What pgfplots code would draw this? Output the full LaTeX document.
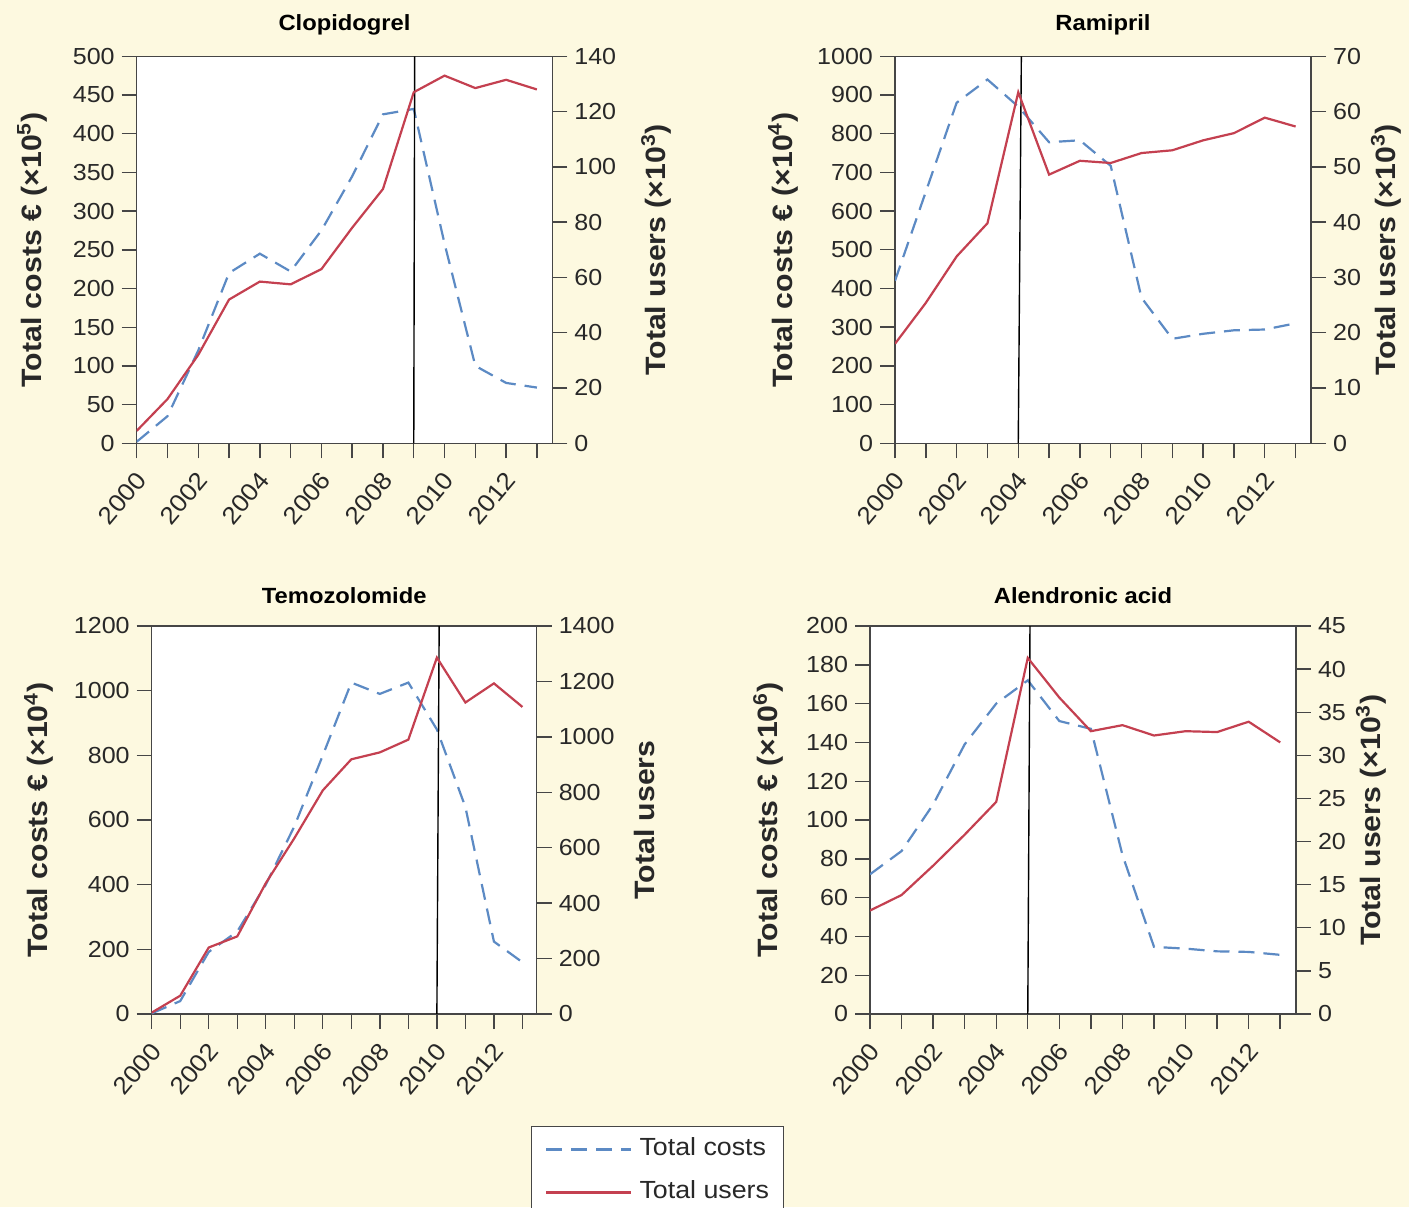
\documentclass[border=0pt]{standalone}
\usepackage{fontspec}
\setmainfont{Liberation Sans}[FakeStretch=1.08]
\usepackage{pgfplots}
\pgfplotsset{compat=1.18}
\definecolor{bgcream}{RGB}{253,249,224}
\definecolor{axisgray}{RGB}{70,70,70}
\definecolor{txtgray}{RGB}{40,40,40}
\definecolor{costblue}{RGB}{92,138,196}
\definecolor{userred}{RGB}{196,64,80}
\newcommand\tickfont{\fontsize{11.6}{13}\selectfont}
\newcommand\xtickfont{\fontsize{12.2}{14}\selectfont}
\newcommand\labfont{\fontsize{14}{16}\selectfont\bfseries}
\newcommand\titfont{\fontsize{11}{13}\selectfont\bfseries}
\newcommand\legfont{\fontsize{12.4}{14}\selectfont}
\pgfplotsset{
  panel/.style={scale only axis, xmin=2000, xmax=2013.5, ymin=0,
    tick align=outside, major tick length=7.5pt,
    axis line style={draw=axisgray, line width=0.7pt},
    tick style={draw=axisgray, line width=0.7pt},
    ticklabel style={font=\tickfont, text=txtgray},
    /pgf/number format/assume math mode=true,
    /pgf/number format/1000 sep={},
    scaled y ticks=false,
    xtick={2000,...,2013},
  },
  leftax/.style={panel, axis background/.style={fill=white},
    xtick pos=bottom, ytick pos=left,
    xticklabels={2000,,2002,,2004,,2006,,2008,,2010,,2012,},
    xticklabel style={font=\xtickfont, xshift=4.5pt, yshift=-6pt, rotate=50, anchor=east},
    title style={font=\titfont, text=black, at={(axis description cs:0.5,1)}, anchor=base},
    every axis y label/.style={at={(axis description cs:#1,0.5)}, rotate=90, anchor=center, font=\labfont, text=txtgray},
  },
  rightax/.style={panel, axis x line=none, axis y line*=right, ytick pos=right,
    every axis y label/.style={at={(axis description cs:#1,0.5)}, rotate=90, anchor=center, font=\labfont, text=txtgray},
  },
  costline/.style={costblue, line width=1.1pt, dash pattern=on 8pt off 4.5pt},
  userline/.style={userred, line width=1.1pt},
  eventline/.style={black, line width=0.7pt},
}
\begin{document}
\begin{tikzpicture}[x=1pt,y=1pt]
\fill[bgcream] (0,0) rectangle (704.5,603.5);
\useasboundingbox (0,0) rectangle (704.5,603.5);

% ---------------- Clopidogrel
\begin{axis}[leftax=-0.252, at={(68.35pt,381.85pt)}, anchor=south west,
  width=207.8pt, height=193.5pt, ymax=500, ytick={0,50,...,500},
  title={Clopidogrel}, title style={yshift=7pt},
  ylabel={Total costs € (×10\textsuperscript{5})}]
\addplot[costline] coordinates {(2000,2) (2001,35) (2002,120) (2003,220) (2004,245) (2005,222) (2006,275) (2007,345) (2008,425) (2009,432) (2010,258) (2011,100) (2012,78) (2013,72)};
\addplot[eventline] coordinates {(2009,0) (2009.03,500)};
\end{axis}
\begin{axis}[rightax=1.25, at={(68.35pt,381.85pt)}, anchor=south west,
  width=207.8pt, height=193.5pt, ymax=140, ytick={0,20,...,140},
  ylabel={Total users (×10\textsuperscript{3})}]
\addplot[userline] coordinates {(2000,4.5) (2001,16) (2002,32) (2003,52) (2004,58.5) (2005,57.5) (2006,63) (2007,78) (2008,92) (2009,127) (2010,133) (2011,128.5) (2012,131.5) (2013,128)};
\end{axis}

% ---------------- Ramipril
\begin{axis}[leftax=-0.269, at={(447.5pt,381.85pt)}, anchor=south west,
  width=208pt, height=193.5pt, ymax=1000, ytick={0,100,...,1000},
  title={Ramipril}, title style={yshift=7pt},
  ylabel={Total costs € (×10\textsuperscript{4})}]
\addplot[costline] coordinates {(2000,420) (2001,650) (2002,880) (2003,940) (2004,870) (2005,778) (2006,783) (2007,717) (2008,376) (2009,270) (2010,283) (2011,292) (2012,294) (2013,310)};
\addplot[eventline] coordinates {(2004.0,0) (2004.1,1000)};
\end{axis}
\begin{axis}[rightax=1.18, at={(447.5pt,381.85pt)}, anchor=south west,
  width=208pt, height=193.5pt, ymax=70, ytick={0,10,...,70},
  ylabel={Total users (×10\textsuperscript{3})}]
\addplot[userline] coordinates {(2000,18) (2001,25.4) (2002,33.8) (2003,39.8) (2004,63.5) (2005,48.6) (2006,51.1) (2007,50.7) (2008,52.5) (2009,53) (2010,54.8) (2011,56.1) (2012,58.9) (2013,57.3)};
\end{axis}

% ---------------- Temozolomide
\begin{axis}[leftax=-0.293, at={(75.85pt,96.5pt)}, anchor=south west,
  width=192.5pt, height=194pt, ymax=1200, ytick={0,200,...,1200},
  title={Temozolomide}, title style={yshift=5.5pt},
  ylabel={Total costs € (×10\textsuperscript{4})}]
\addplot[costline] coordinates {(2000,2) (2001,40) (2002,192) (2003,255) (2004,400) (2005,580) (2006,800) (2007,1025) (2008,990) (2009,1025) (2010,880) (2011,640) (2012,224) (2013,160)};
\addplot[eventline] coordinates {(2010.0,0) (2010.08,1200)};
\end{axis}
\begin{axis}[rightax=1.281, at={(75.85pt,96.5pt)}, anchor=south west,
  width=192.5pt, height=194pt, ymax=1400, ytick={0,200,...,1400},
  ylabel={Total users},
  legend style={at={(axis description cs:0.985,-0.289)}, anchor=north west,
    draw=axisgray, fill=white, font=\legfont, text=txtgray,
    inner xsep=3.5pt, inner ysep=3.5pt, row sep=5.5pt,
    nodes={inner xsep=3.5pt, inner ysep=2pt, text height=9pt, text depth=3pt}},
  legend cell align=left,
  legend image code/.code={\path (0pt,0pt); \draw[#1] (3.5pt,0pt) -- (46pt,0pt);}]
\addlegendimage{costline}
\addlegendentry{Total costs}
\addplot[userline] coordinates {(2000,5) (2001,66) (2002,240) (2003,280) (2004,472) (2005,634) (2006,807) (2007,919) (2008,944) (2009,990) (2010,1286) (2011,1124) (2012,1193) (2013,1108)};
\addlegendentry{Total users}
\end{axis}

% ---------------- Alendronic acid
\begin{axis}[leftax=-0.239, at={(435pt,96.5pt)}, anchor=south west,
  width=213pt, height=194pt, ymax=200, ytick={0,20,...,200},
  title={Alendronic acid}, title style={yshift=5.5pt},
  ylabel={Total costs € (×10\textsuperscript{6})}]
\addplot[costline] coordinates {(2000,72) (2001,84) (2002,108) (2003,139) (2004,160) (2005,172) (2006,151) (2007,147) (2008,82) (2009,34.6) (2010,33.7) (2011,32.3) (2012,32) (2013,30.5)};
\addplot[eventline] coordinates {(2005.0,0) (2005.07,200)};
\end{axis}
\begin{axis}[rightax=1.176, at={(435pt,96.5pt)}, anchor=south west,
  width=213pt, height=194pt, ymax=45, ytick={0,5,...,45},
  ylabel={Total users (×10\textsuperscript{3})}]
\addplot[userline] coordinates {(2000,12.0) (2001,13.8) (2002,17.2) (2003,20.8) (2004,24.6) (2005,41.3) (2006,36.7) (2007,32.8) (2008,33.5) (2009,32.3) (2010,32.8) (2011,32.7) (2012,33.9) (2013,31.5)};
\end{axis}
\end{tikzpicture}
\end{document}
